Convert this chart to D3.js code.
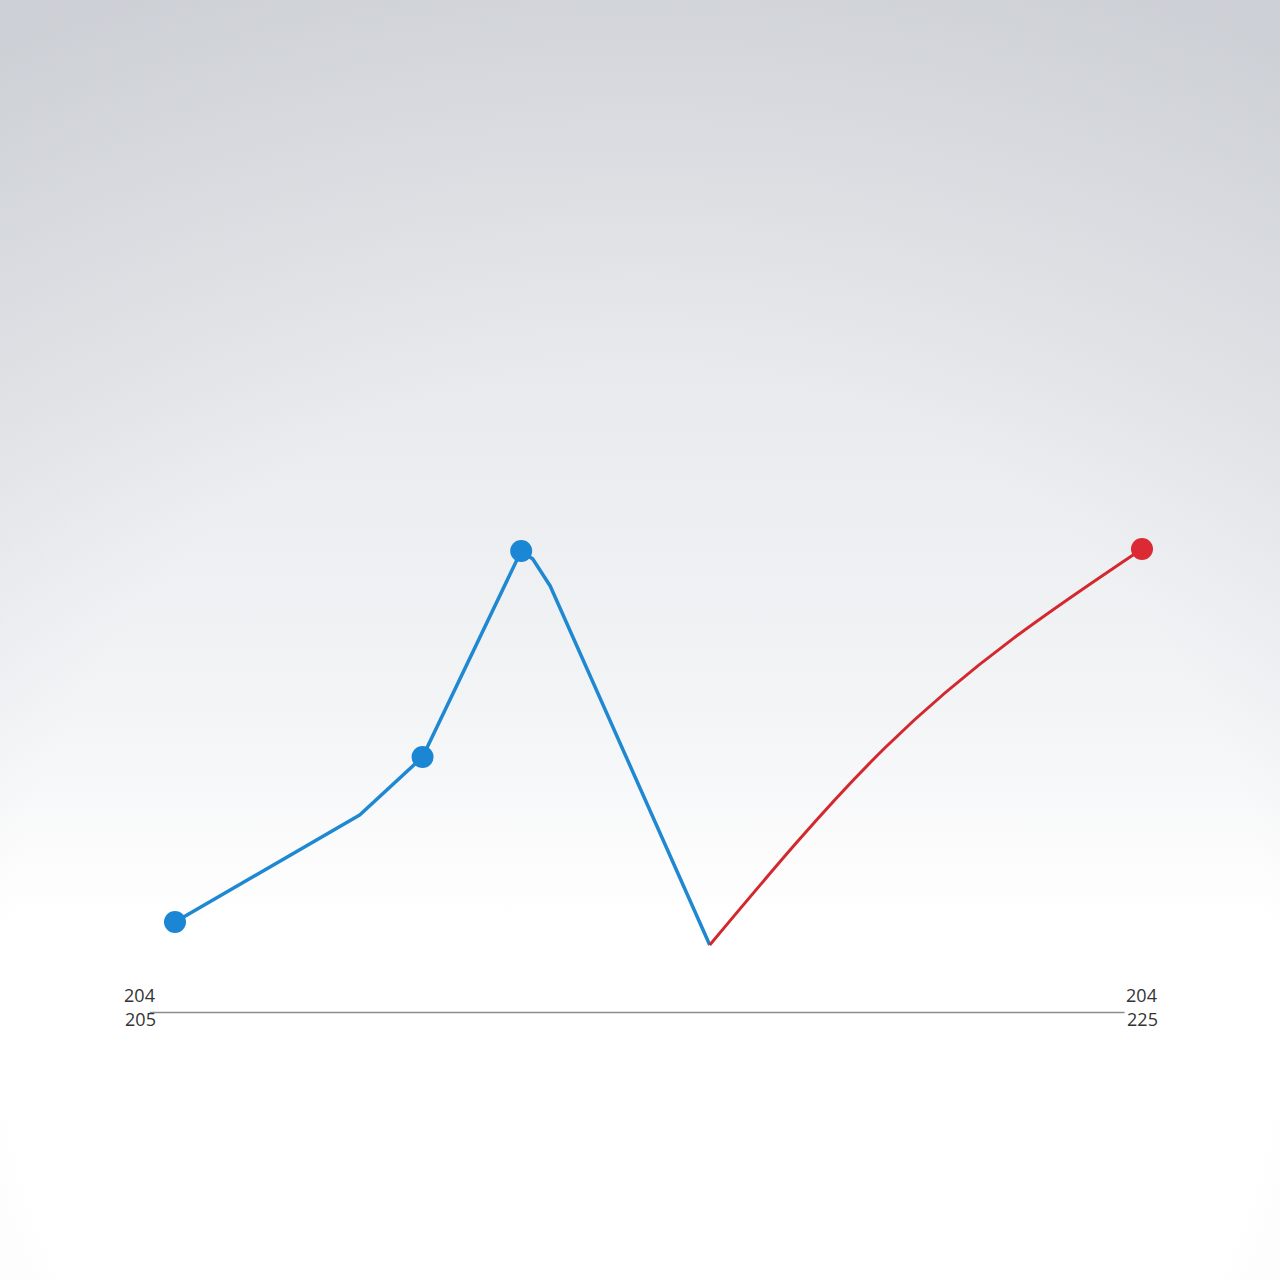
<!DOCTYPE html>
<html>
<head>
<meta charset="utf-8">
<script src="https://cdn.jsdelivr.net/npm/d3@7"></script>
<style>
  html, body { margin: 0; padding: 0; background: #fff; }
  svg { display: block; }
</style>
</head>
<body>
<div id="chart"></div>
<script>
// series (x: position 0..100 along the axis, y: value 0..100)
const blueX = [0, 19.1, 25.6, 35.8, 37.0, 38.8, 55.3];
const blueY = [18, 39.4, 51, 92.2, 90.6, 85.2, 13.4];
const blueMarked = [true, false, true, true, false, false, false];

const redX = [55.3, 73.4, 100];
const redY = [13.4, 52.8, 92.6];
const redMarked = [false, false, true];

// two-line tick labels at each end of the axis
const tickTop = ['204', '204'];
const tickBottom = ['205', '225'];

const width = 1280;
const height = 1280;

const svg = d3.select('#chart')
    .append('svg')
    .attr('width', width)
    .attr('height', height);

const defs = svg.append('defs');
const lin = defs.append('linearGradient')
    .attr('id', 'bgLin')
    .attr('x1', 0).attr('y1', 0).attr('x2', 0).attr('y2', 1);
lin.append('stop').attr('offset', '0').attr('stop-color', '#dfe1e5');
lin.append('stop').attr('offset', '0.3').attr('stop-color', '#e8eaed');
lin.append('stop').attr('offset', '0.55').attr('stop-color', '#f3f4f6');
lin.append('stop').attr('offset', '0.72').attr('stop-color', '#ffffff');
lin.append('stop').attr('offset', '1').attr('stop-color', '#ffffff');

const rad = defs.append('radialGradient')
    .attr('id', 'bgRad')
    .attr('gradientUnits', 'userSpaceOnUse')
    .attr('cx', 640).attr('cy', 1000).attr('r', 1150);
rad.append('stop').attr('offset', '0.55').attr('stop-color', '#8a909c').attr('stop-opacity', 0);
rad.append('stop').attr('offset', '1').attr('stop-color', '#8a909c').attr('stop-opacity', 0.22);

svg.append('rect').attr('width', width).attr('height', height).attr('fill', 'url(#bgLin)');
svg.append('rect').attr('width', width).attr('height', height).attr('fill', 'url(#bgRad)');

const x = d3.scaleLinear().domain([0, 100]).range([175, 1142]);
const y = d3.scaleLinear().domain([0, 100]).range([1012, 512]);

// axis: tick labels centered under the two ends
const axisScale = d3.scaleLinear().domain([-3.6, 100]).range([140, 1142]);
const axis = svg.append('g')
    .attr('transform', `translate(0,${y(0)})`)
    .call(d3.axisBottom(axisScale).tickValues([-3.6, 100]).tickSize(0).tickFormat(''));
axis.select('.domain')
    .attr('d', `M${axisScale(-2.6)},0.5H${axisScale(98.2)}`)
    .attr('stroke', '#8c8c8c')
    .attr('stroke-width', 1.3);
axis.selectAll('.tick').each(function (d, i) {
    const t = d3.select(this).select('text')
        .attr('y', 0).attr('dy', null)
        .attr('fill', '#333')
        .attr('font-family', '"Open Sans", "Noto Sans", sans-serif')
        .attr('font-size', 18);
    t.append('tspan').attr('x', -1).attr('y', -10).text(tickTop[i]);
    t.append('tspan').attr('x', 0).attr('y', 14).text(tickBottom[i]);
});

const blue = blueX.map((v, i) => ({ x: v, y: blueY[i], m: blueMarked[i] }));
const red = redX.map((v, i) => ({ x: v, y: redY[i], m: redMarked[i] }));

svg.append('path')
    .datum(blue)
    .attr('fill', 'none')
    .attr('stroke', '#1e88d2')
    .attr('stroke-width', 3.5)
    .attr('stroke-linejoin', 'round')
    .attr('d', d3.line().x(d => x(d.x)).y(d => y(d.y)).curve(d3.curveLinear));

svg.append('path')
    .datum(red)
    .attr('fill', 'none')
    .attr('stroke', '#d3282e')
    .attr('stroke-width', 3)
    .attr('stroke-linejoin', 'round')
    .attr('d', d3.line().x(d => x(d.x)).y(d => y(d.y)).curve(d3.curveMonotoneX));

svg.selectAll('.dot-blue')
    .data(blue.filter(d => d.m))
    .enter()
    .append('circle')
    .attr('class', 'dot-blue')
    .attr('cx', d => x(d.x))
    .attr('cy', d => y(d.y))
    .attr('r', 11)
    .attr('fill', '#1a86d4');

svg.selectAll('.dot-red')
    .data(red.filter(d => d.m))
    .enter()
    .append('circle')
    .attr('class', 'dot-red')
    .attr('cx', d => x(d.x))
    .attr('cy', d => y(d.y))
    .attr('r', 11)
    .attr('fill', '#dc2a34');
</script>
</body>
</html>
